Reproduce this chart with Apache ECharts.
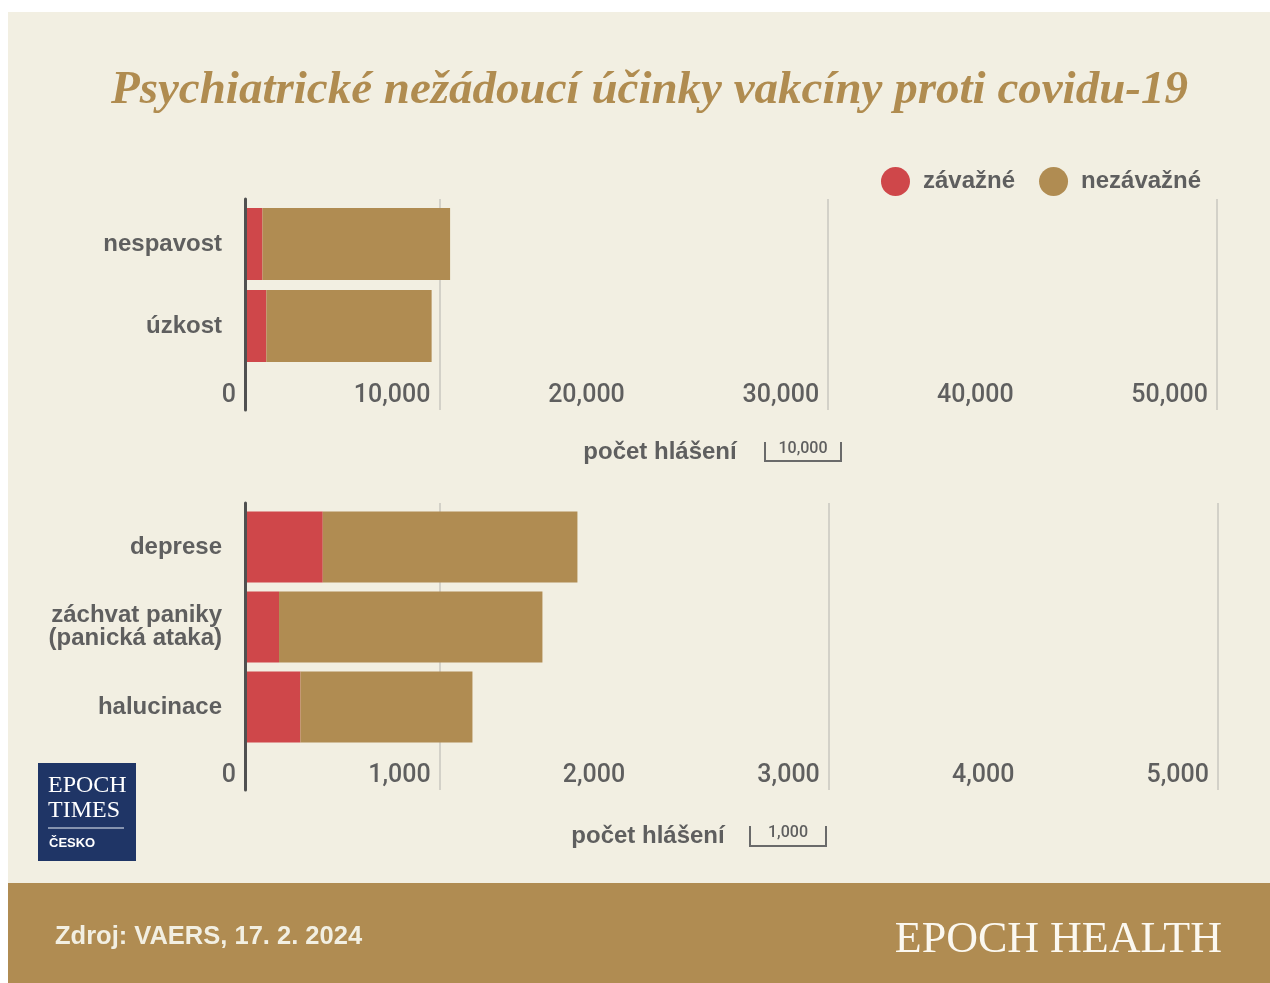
<!DOCTYPE html>
<html><head><meta charset="utf-8">
<script src="https://cdn.jsdelivr.net/npm/echarts@6/dist/echarts.min.js"></script>
<style>html,body{margin:0;padding:0;background:#fff;}#c{width:1270px;height:983px;}</style>
</head><body><div id="c"></div>
<script>
const titleText = 'Psychiatrické nežádoucí účinky vakcíny proti covidu-19';
const seriesNames = ['závažné', 'nezávažné'];
const topCategories = ['nespavost', 'úzkost'];
const topSerious = [900, 1100];
const topNonSerious = [9650, 8500];
const bottomCategories = ['deprese', 'záchvat paniky\n(panická ataka)', 'halucinace'];
const bottomSerious = [400, 175, 285];
const bottomNonSerious = [1310, 1355, 885];
const topTicks = [0, 10000, 20000, 30000, 40000, 50000];
const bottomTicks = [0, 1000, 2000, 3000, 4000, 5000];
const axisName = 'počet hlášení';
const topScaleLabel = '10,000';
const bottomScaleLabel = '1,000';
const sourceText = 'Zdroj: VAERS, 17. 2. 2024';
const brandText = 'EPOCH HEALTH';

const RED = '#cf474a', GOLD = '#b08c52', CREAM = '#f2efe2', GREY = '#5f5f5f';
const fmt = v => v.toLocaleString('en-US');

const chart = echarts.init(document.getElementById('c'), null, {renderer: 'canvas'});

function lineAxis(grid, ticks) {
  return {
    type: 'value', gridIndex: grid, min: ticks[0], max: ticks[ticks.length - 1],
    interval: ticks[1] - ticks[0],
    axisLine: {show: false}, axisTick: {show: false},
    splitLine: {show: true, lineStyle: {color: ['rgba(0,0,0,0)', '#d3d1c8'], width: 2}},
    axisLabel: {
      inside: true, align: 'right', margin: 2, padding: [0, 9, 0, 0],
      color: GREY, fontFamily: 'Roboto', fontWeight: 500, fontSize: 25,
      showMinLabel: true, showMaxLabel: true, formatter: fmt
    }
  };
}
function barAxis(grid, ticks) {
  return {type: 'value', gridIndex: grid, show: false, min: ticks[0], max: ticks[ticks.length - 1]};
}
function catAxis(grid, cats) {
  return {
    type: 'category', gridIndex: grid, data: cats, inverse: true,
    axisLine: {show: false}, axisTick: {show: false},
    axisLabel: {margin: 23, color: GREY, fontFamily: 'Liberation Sans', fontWeight: 'bold', fontSize: 24, lineHeight: 23}
  };
}
function lineYAxis(grid) {
  return {
    type: 'value', gridIndex: grid, z: 5,
    axisLine: {show: true, lineStyle: {color: '#505050', width: 3}},
    axisTick: {show: false}, axisLabel: {show: false}, splitLine: {show: false}
  };
}
function bar(name, data, xi, stack, color, bw) {
  return {
    type: 'bar', name: name, data: data, xAxisIndex: xi, yAxisIndex: xi, stack: stack,
    barWidth: bw, itemStyle: {color: color}, silent: true, animation: false
  };
}
function bracket(x1, x2, yTop, yBot) {
  return {
    type: 'polyline', shape: {points: [[x1, yTop], [x1, yBot], [x2, yBot], [x2, yTop]]},
    style: {stroke: '#6a6a6a', lineWidth: 2, fill: null}
  };
}

const option = {
  animation: false,
  backgroundColor: 'transparent',
  title: {
    text: titleText, left: 106, top: 62,
    textStyle: {fontFamily: 'Liberation Serif', fontStyle: 'italic', fontWeight: 'bold', fontSize: 47, color: '#b08c50'}
  },
  legend: {
    data: seriesNames, left: 876, top: 162, icon: 'circle', itemWidth: 29, itemHeight: 29, itemGap: 24,
    textStyle: {color: GREY, fontFamily: 'Liberation Sans', fontWeight: 'bold', fontSize: 24, padding: [0, 0, 0, 8]},
    selectedMode: false
  },
  grid: [
    {left: 245, right: 53, top: 203, height: 164},
    {left: 245, right: 53, top: 199, bottom: 573},
    {left: 245, right: 53, top: 507, height: 240},
    {left: 245, right: 52, top: 503, bottom: 193}
  ],
  xAxis: [barAxis(0, topTicks), lineAxis(1, topTicks), barAxis(2, bottomTicks), lineAxis(3, bottomTicks)],
  yAxis: [catAxis(0, topCategories), lineYAxis(1), catAxis(2, bottomCategories), lineYAxis(3)],
  series: [
    bar(seriesNames[0], topSerious, 0, 'a', RED, 72),
    bar(seriesNames[1], topNonSerious, 0, 'a', GOLD, 72),
    bar(seriesNames[0], bottomSerious, 2, 'b', RED, 71),
    bar(seriesNames[1], bottomNonSerious, 2, 'b', GOLD, 71)
  ],
  graphic: [
    {type: 'rect', z: -10, shape: {x: 8, y: 12, width: 1262, height: 971}, style: {fill: CREAM}},
    {type: 'rect', z: -9, shape: {x: 8, y: 883, width: 1262, height: 100}, style: {fill: GOLD}},
    {type: 'text', x: 660, y: 452, style: {text: axisName, fill: GREY, font: 'bold 24px "Liberation Sans"', align: 'center', verticalAlign: 'middle'}},
    {type: 'text', x: 803, y: 449, style: {text: topScaleLabel, fill: GREY, font: '500 16px Roboto', align: 'center', verticalAlign: 'middle'}},
    bracket(765, 841, 442, 461),
    {type: 'text', x: 648, y: 836, style: {text: axisName, fill: GREY, font: 'bold 24px "Liberation Sans"', align: 'center', verticalAlign: 'middle'}},
    {type: 'text', x: 788, y: 833, style: {text: bottomScaleLabel, fill: GREY, font: '500 16px Roboto', align: 'center', verticalAlign: 'middle'}},
    bracket(750, 826, 826, 846),
    {type: 'rect', shape: {x: 38, y: 763, width: 98, height: 98}, style: {fill: '#1f3566'}},
    {type: 'text', x: 48, y: 786, style: {text: 'EPOCH', fill: '#ffffff', font: '24px "Liberation Serif"', verticalAlign: 'middle'}},
    {type: 'text', x: 48, y: 811, style: {text: 'TIMES', fill: '#ffffff', font: '24px "Liberation Serif"', verticalAlign: 'middle'}},
    {type: 'line', shape: {x1: 48, y1: 828, x2: 124, y2: 828}, style: {stroke: '#a9b3c9', lineWidth: 1.5}},
    {type: 'text', x: 49, y: 843, style: {text: 'ČESKO', fill: '#ffffff', font: 'bold 13px "Liberation Sans"', verticalAlign: 'middle'}},
    {type: 'text', x: 55, y: 937, style: {text: sourceText, fill: CREAM, font: 'bold 25.5px "Liberation Sans"', verticalAlign: 'middle'}},
    {type: 'text', x: 1222, y: 940, style: {text: brandText, fill: '#fbf8f0', font: '44px "Liberation Serif"', align: 'right', verticalAlign: 'middle'}}
  ]
};
chart.setOption(option);
</script></body></html>
